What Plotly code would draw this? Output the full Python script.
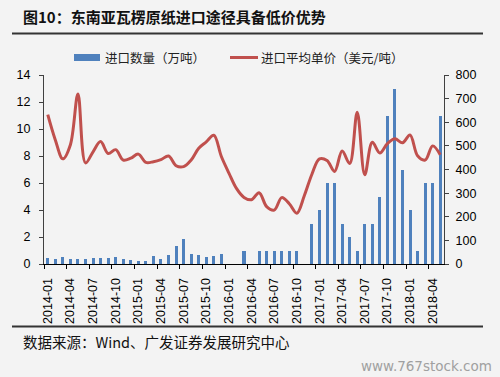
import plotly.graph_objects as go

months = [f"{y}-{m:02d}" for y in range(2014, 2019) for m in range(1, 13)][:53]

import_qty = [0.44, 0.35, 0.49, 0.35, 0.35, 0.37, 0.44, 0.42, 0.42, 0.49, 0.39, 0.30,
              0.25, 0.22, 0.57, 0.39, 0.64, 1.33, 1.85, 0.72, 0.64, 0.52, 0.57, 0.74,
              None, None, 1.0, None, 1.0, 1.0, 1.0, 1.0, 1.0, 1.0, None, 3,
              4, 6, 6, 3, 2, 1, 3, 3, 5, 11, 13, 7,
              4, 1, 6, 6, 11]

avg_price = [632, 525, 445, 505, 720, 428, 475, 518, 468, 484, 440, 448,
             465, 430, 433, 442, 457, 416, 412, 440, 490, 517, 545, 455,
             385, 320, 282, 272, 302, 243, 228, 281, 255, 215, 290, 380,
             445, 438, 392, 478, 425, 642, 378, 515, 470, 510, 530, 513,
             546, 458, 440, 500, 462]

qty_name = "进口数量（万吨）"
price_name = "进口平均单价（美元/吨）"
title_text = "图10：东南亚瓦楞原纸进口途径具备低价优势"
source_text = "数据来源：Wind、广发证券发展研究中心"
watermark = "www.767stock.com"

idx = list(range(len(months)))
tick_idx = idx[::3]
tick_text = months[::3]

BG = "#f3f3f3"
BLUE = "#4f81bd"
RED = "#c0504d"
CJK = "Noto Sans CJK SC"
LAT = "Liberation Sans, Arial"

# plot area in pixels: x 44..444, y 75..264
def px(x):
    return (x - 44) / 400

def py(y):
    return (264 - y) / 189

fig = go.Figure()
fig.add_trace(go.Bar(x=idx, y=import_qty, name=qty_name, marker_color=BLUE,
                     marker_line_width=0, width=0.4, yaxis="y", showlegend=False))
fig.add_trace(go.Scatter(x=idx, y=avg_price, name=price_name, mode="lines",
                         line=dict(color=RED, width=3, shape="spline", smoothing=1),
                         yaxis="y2", showlegend=False))

shapes = [
    dict(type="line", xref="paper", yref="paper", x0=px(12), x1=px(483), y0=py(33.5), y1=py(33.5),
         line=dict(color="#333333", width=2)),
    dict(type="line", xref="paper", yref="paper", x0=px(12), x1=px(483), y0=py(326.5), y1=py(326.5),
         line=dict(color="#333333", width=2)),
    dict(type="rect", xref="paper", yref="paper", x0=px(74), x1=px(100), y0=py(61), y1=py(54),
         fillcolor=BLUE, line=dict(width=0)),
    dict(type="line", xref="paper", yref="paper", x0=px(230), x1=px(258), y0=py(57.5), y1=py(57.5),
         line=dict(color=RED, width=3)),
]

annotations = [
    dict(text="<b>" + title_text + "</b>", xref="paper", yref="paper", x=px(21), y=py(17),
         xanchor="left", yanchor="middle", showarrow=False,
         font=dict(family=CJK, size=15, color="#111111")),
    dict(text=qty_name, xref="paper", yref="paper", x=px(103), y=py(57.5),
         xanchor="left", yanchor="middle", showarrow=False,
         font=dict(family=CJK, size=12.5, color="#222222")),
    dict(text=price_name, xref="paper", yref="paper", x=px(259), y=py(57.5),
         xanchor="left", yanchor="middle", showarrow=False,
         font=dict(family=CJK, size=12.5, color="#222222")),
    dict(text=source_text, xref="paper", yref="paper", x=px(21), y=py(341),
         xanchor="left", yanchor="middle", showarrow=False,
         font=dict(family=CJK, size=14.5, color="#111111")),
    dict(text=watermark, xref="paper", yref="paper", x=px(494), y=py(366),
         xanchor="right", yanchor="middle", showarrow=False,
         font=dict(family="DejaVu Sans", size=13.5, color="#a0a0a0")),
]

fig.update_layout(
    width=500, height=377,
    margin=dict(l=44, r=56, t=75, b=113),
    paper_bgcolor=BG, plot_bgcolor=BG,
    bargap=0,
    shapes=shapes, annotations=annotations,
    xaxis=dict(range=[-0.5, len(months) - 0.5], tickmode="array", tickvals=tick_idx, ticktext=tick_text,
               tickangle=-90, ticks="", showline=True, linecolor="black", linewidth=1,
               showgrid=False, zeroline=False, ticklabelstandoff=8,
               tickfont=dict(family=LAT, size=12.5, color="black"),
               minor=dict(tickvals=[v - 0.5 for v in tick_idx], ticks="outside", ticklen=4,
                          tickcolor="black", tickwidth=1, showgrid=False)),
    yaxis=dict(range=[0, 14], dtick=2, tick0=0, showline=True, linecolor="#404040", linewidth=1,
               ticks="outside", ticklen=4, tickcolor="#404040", showgrid=False, zeroline=False,
               ticklabelstandoff=6, tickfont=dict(family=LAT, size=12.5, color="black")),
    yaxis2=dict(range=[0, 800], dtick=100, tick0=0, overlaying="y", side="right", showline=True,
                linecolor="#404040", linewidth=1, ticks="outside", ticklen=4, tickcolor="#404040",
                showgrid=False, zeroline=False, ticklabelstandoff=4,
                tickfont=dict(family=LAT, size=12.5, color="black")),
)

fig.write_html("out.html", config={"displayModeBar": False},
               post_script="document.body.style.margin='0';document.body.style.background='%s';" % BG)
